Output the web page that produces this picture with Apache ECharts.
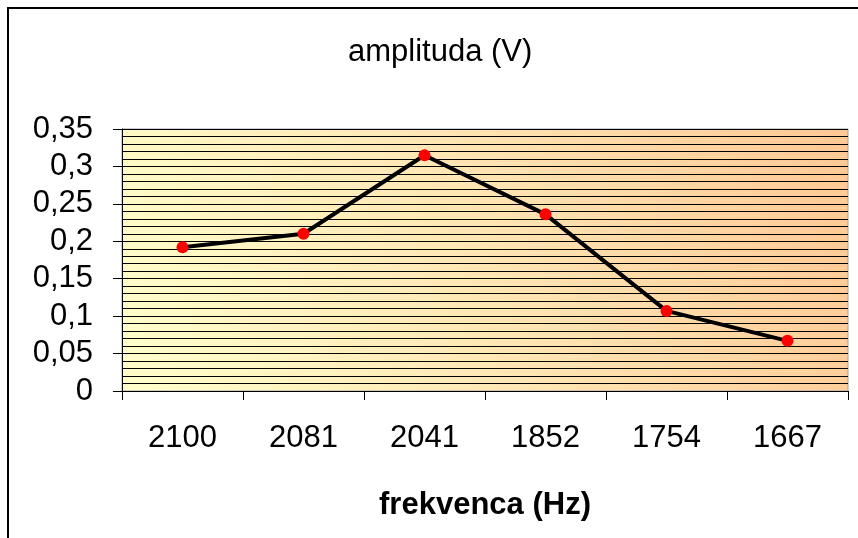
<!DOCTYPE html>
<html>
<head>
<meta charset="utf-8">
<script src="https://cdn.jsdelivr.net/npm/echarts@6/dist/echarts.min.js"></script>
<style>
  html, body { margin: 0; padding: 0; background: #fff; }
  #main { width: 858px; height: 538px; }
</style>
</head>
<body>
<div id="main"></div>
<script>
// frekvenca (Hz) na osi x, amplituda (V) na osi y
const frekvence = ['2100', '2081', '2041', '1852', '1754', '1667']
const amplitude = [0.192, 0.21, 0.315, 0.236, 0.107, 0.067]

const fontFam = '"Liberation Sans", Arial, sans-serif'
const fs = 31

let myChart = echarts.init(document.getElementById('main'))
myChart.setOption({
  backgroundColor: '#fff',
  animation: false,
  title: {
    text: 'amplituda (V)',
    left: 343,
    top: 32,
    textStyle: { fontFamily: fontFam, fontSize: fs, fontWeight: 'normal', color: '#000' }
  },
  graphic: [
    {
      // okvir grafa
      type: 'rect',
      shape: { x: 8, y: 8, width: 1000, height: 700 },
      style: { fill: null, stroke: '#000', lineWidth: 2 },
      silent: true
    }
  ],
  grid: {
    left: 122,
    right: 10,
    top: 129,
    bottom: 147,
    show: true,
    borderColor: '#a0a0a0',
    borderWidth: 1,
    backgroundColor: {
      type: 'linear', x: 0, y: 1, x2: 1, y2: 0,
      colorStops: [
        { offset: 0, color: '#FFFFCC' },
        { offset: 0.5, color: '#FFE6B4' },
        { offset: 1, color: '#FFC894' }
      ]
    }
  },
  xAxis: {
    type: 'category',
    data: frekvence,
    boundaryGap: true,
    name: 'frekvenca (Hz)',
    nameLocation: 'middle',
    nameGap: 99,
    nameTextStyle: { fontFamily: fontFam, fontSize: fs, fontWeight: 'bold', color: '#000' },
    axisLine: { lineStyle: { color: '#000', width: 1 } },
    axisTick: { show: true, length: 9, lineStyle: { color: '#000' } },
    axisLabel: { margin: 32, fontFamily: fontFam, fontSize: fs, color: '#000' },
    splitLine: { show: false }
  },
  yAxis: {
    type: 'value',
    min: 0,
    max: 0.35,
    interval: 0.05,
    axisLine: { show: true, lineStyle: { color: '#000', width: 1 } },
    axisTick: { show: true, length: 9, lineStyle: { color: '#000' } },
    axisLabel: {
      margin: 29,
      fontFamily: fontFam,
      fontSize: fs,
      color: '#000',
      formatter: function (v) {
        return String(Math.round(v * 100) / 100).replace('.', ',')
      }
    },
    splitLine: { show: true, lineStyle: { color: '#000', width: 1 } },
    minorTick: { show: false, splitNumber: 5 },
    minorSplitLine: { show: true, lineStyle: { color: '#000', width: 1 } }
  },
  series: [
    {
      name: 'amplituda (V)',
      type: 'line',
      data: amplitude,
      lineStyle: { color: '#000', width: 4 },
      symbol: 'circle',
      symbolSize: 12,
      itemStyle: { color: '#ff0000', borderWidth: 0 }
    }
  ]
})
</script>
</body>
</html>
